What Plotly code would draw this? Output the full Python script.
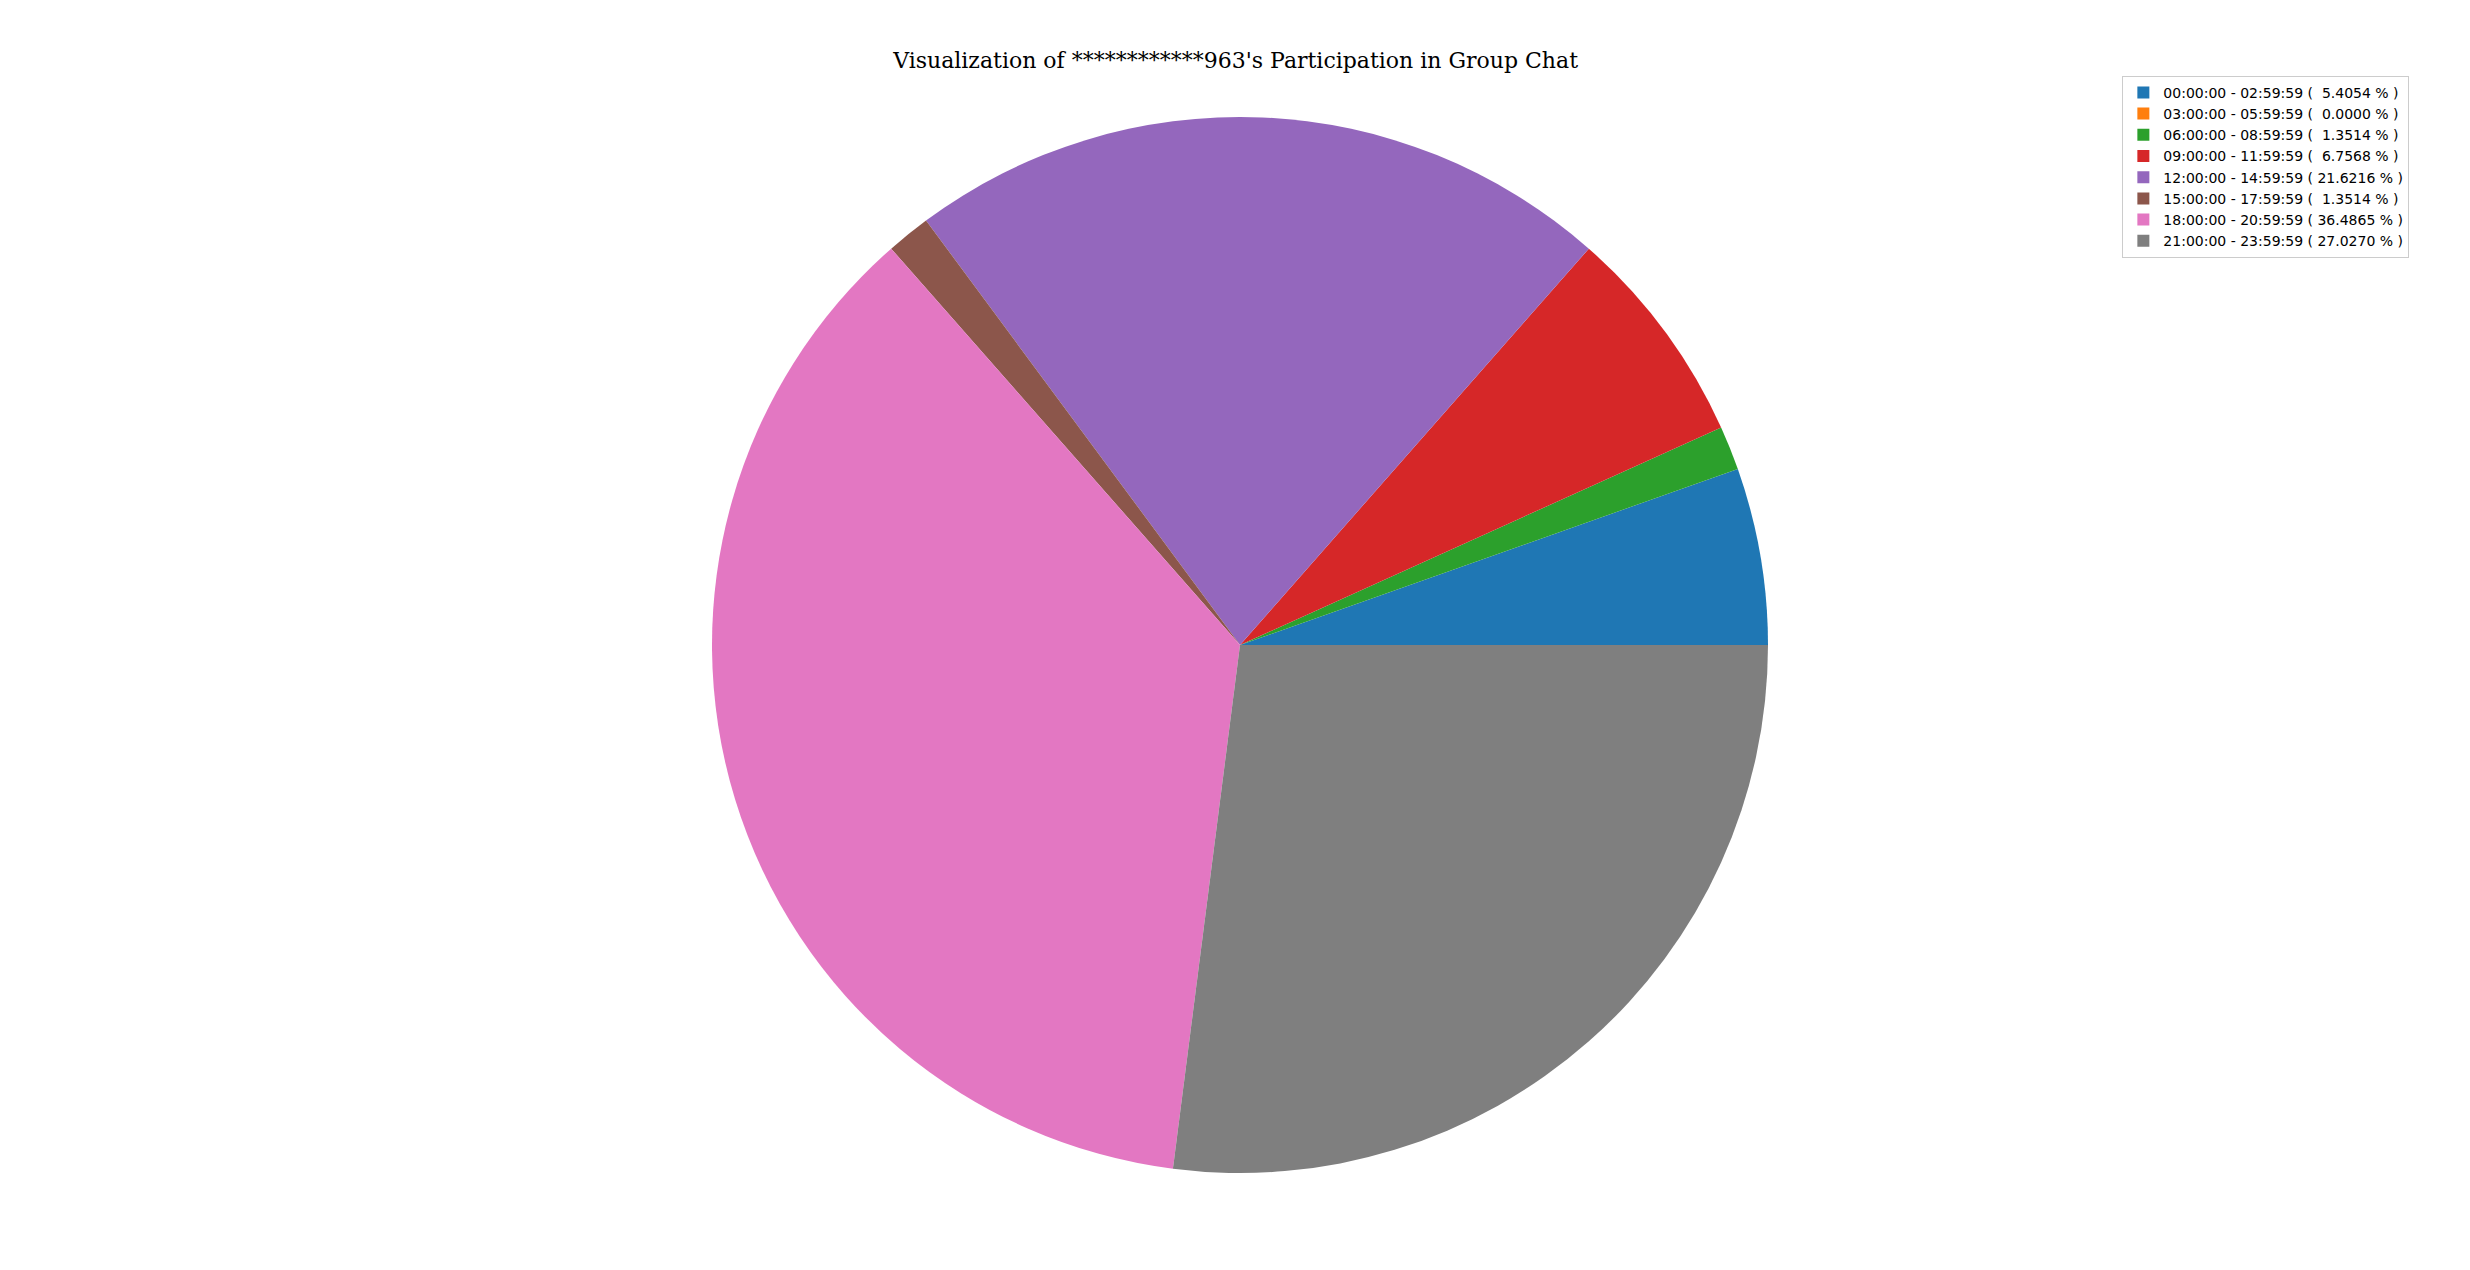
import plotly.graph_objects as go

# message counts per 3-hour slot
slot_start = ["00:00:00", "03:00:00", "06:00:00", "09:00:00",
              "12:00:00", "15:00:00", "18:00:00", "21:00:00"]
slot_end = ["02:59:59", "05:59:59", "08:59:59", "11:59:59",
            "14:59:59", "17:59:59", "20:59:59", "23:59:59"]
counts = [4, 0, 1, 5, 16, 1, 27, 20]
colors = ["#1f77b4", "#ff7f0e", "#2ca02c", "#d62728",
          "#9467bd", "#8c564b", "#e377c2", "#7f7f7f"]

total = sum(counts)
labels = []
for s, e, c in zip(slot_start, slot_end, counts):
    pct = "{:7.4f}".format(100.0 * c / total).replace(" ", "\u00a0")
    labels.append(s + " - " + e + " (\u00a0" + pct + " % )")

# first wedge should start at 3 o'clock and run counterclockwise
start_rot = 90 - 360.0 * counts[0] / total

fig = go.Figure(go.Pie(
    labels=labels,
    values=counts,
    sort=False,
    direction="counterclockwise",
    rotation=start_rot,
    marker=dict(colors=colors, line=dict(width=0)),
    textinfo="none",
    hoverinfo="label+value",
    showlegend=True,
))

fig.update_layout(
    width=2470, height=1270,
    paper_bgcolor="white", plot_bgcolor="white",
    margin=dict(l=92, r=98, t=109, b=105),
    title=dict(text="Visualization of ************963's Participation in Group Chat",
               x=0.497, xanchor="center", y=1 - 52 / 1270, yanchor="middle",
               yref="container",
               font=dict(family="DejaVu Serif", size=22, color="black")),
    legend=dict(x=0.887, y=1.039, xanchor="left", yanchor="top",
                font=dict(family="DejaVu Sans", size=14, color="black"),
                bordercolor="#cccccc", borderwidth=1, bgcolor="white",
                traceorder="normal"),
)

fig.write_html("out.html")
